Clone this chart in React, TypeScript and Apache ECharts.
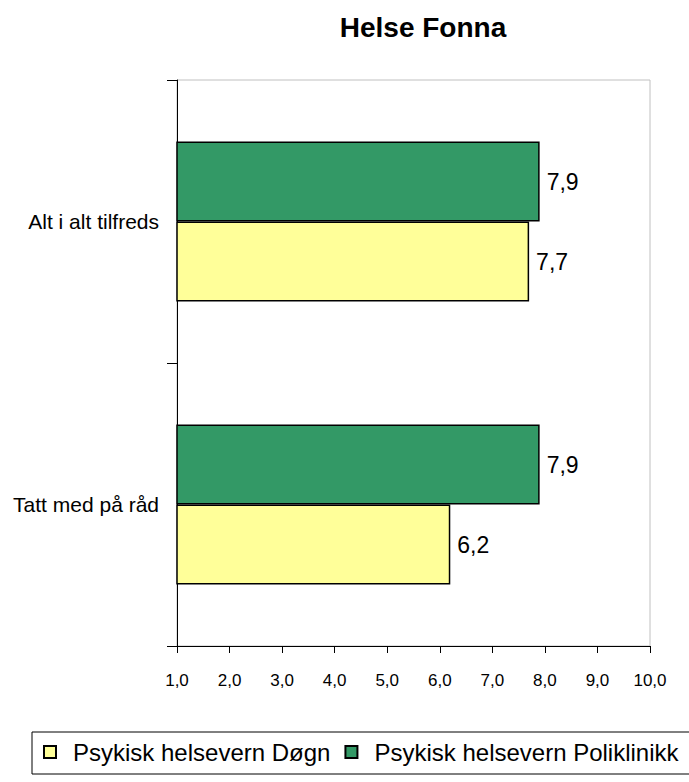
import React, { useEffect, useRef } from "react";
import * as echarts from "echarts";

const title = "Helse Fonna";
const categories = ["Alt i alt tilfreds", "Tatt med på råd"];
const seriesNames = ["Psykisk helsevern Døgn", "Psykisk helsevern Poliklinikk"];
const dognValues = [7.7, 6.2];
const polikValues = [7.9, 7.9];
const seriesColors = ["#FFFF99", "#339966"];

const fmt = (v: number) => v.toFixed(1).replace(".", ",");

export default function App() {
  const ref = useRef<HTMLDivElement>(null);
  useEffect(() => {
    const chart = echarts.init(ref.current!, null, { renderer: "svg" });
    const font = "'Liberation Sans', Arial, sans-serif";
    const mkSeries = (name: string, data: number[], color: string) => ({
      name,
      type: "bar",
      data,
      barWidth: 80,
      barGap: "0%",
      itemStyle: { color, borderColor: "#000", borderWidth: 1.5 },
      label: {
        show: true,
        position: "right",
        distance: 7,
        formatter: (p: any) => fmt(p.value),
        color: "#000",
        fontFamily: font,
        fontSize: 23,
      },
    });
    chart.setOption({
      animation: false,
      textStyle: { fontFamily: font },
      title: {
        text: title,
        left: 418,
        top: 8,
        textAlign: "center",
        textStyle: { fontFamily: font, fontSize: 28, fontWeight: "bold", color: "#000" },
      },
      legend: {
        data: seriesNames,
        left: 32,
        top: 732,
        width: 690,
        orient: "horizontal",
        itemWidth: 12,
        itemHeight: 12,
        itemGap: 14,
        icon: "rect",
        borderColor: "#000",
        borderWidth: 1,
        padding: [8, 30, 10, 11],
        textStyle: { fontFamily: font, fontSize: 24, color: "#000", padding: [0, 0, 0, 12] },
      },
      grid: {
        left: 177,
        right: 39,
        top: 80,
        bottom: 136,
        show: true,
        borderColor: "#c0c0c0",
        borderWidth: 1,
        containLabel: false,
      },
      xAxis: {
        type: "value",
        min: 1,
        max: 10,
        interval: 1,
        axisLine: { show: true, lineStyle: { color: "#000", width: 1 } },
        axisTick: { show: true, length: 7, lineStyle: { color: "#000" } },
        splitLine: { show: false },
        axisLabel: {
          formatter: (v: number) => fmt(v),
          color: "#000",
          fontFamily: font,
          fontSize: 17,
          margin: 26,
        },
      },
      yAxis: {
        type: "category",
        data: categories,
        inverse: true,
        axisLine: { show: true, lineStyle: { color: "#000", width: 1 } },
        axisTick: { show: true, length: 10, lineStyle: { color: "#000" } },
        axisLabel: { color: "#000", fontFamily: font, fontSize: 21, margin: 18 },
      },
      series: [
        mkSeries(seriesNames[1], polikValues, seriesColors[1]),
        mkSeries(seriesNames[0], dognValues, seriesColors[0]),
      ],
    });
    return () => chart.dispose();
  }, []);
  return <div ref={ref} style={{ width: 689, height: 782, position: "absolute", left: 0, top: 0 }} />;
}
